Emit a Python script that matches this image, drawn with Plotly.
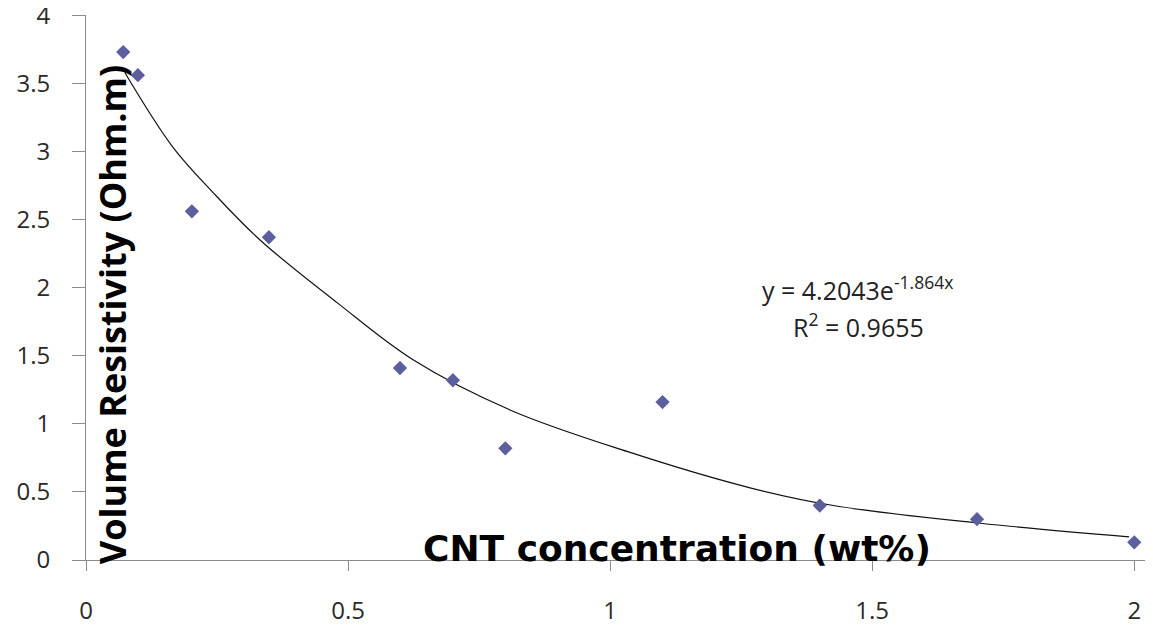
import plotly.graph_objects as go

# measured points
cnt_wt = [0.071, 0.099, 0.202, 0.349, 0.599, 0.70, 0.80, 1.10, 1.40, 1.70, 2.0]
resistivity = [3.73, 3.56, 2.56, 2.37, 1.41, 1.32, 0.82, 1.16, 0.40, 0.30, 0.13]

# exponential trendline as drawn
trend_x = [0.074, 0.166, 0.242, 0.332, 0.479, 0.624, 0.81, 1.038, 1.267, 1.426,
           1.706, 1.99]
trend_y = [3.58, 3.03, 2.70, 2.35, 1.89, 1.47, 1.10, 0.79, 0.53, 0.40,
           0.27, 0.17]

x_ticks = [0, 0.5, 1, 1.5, 2]
y_ticks = [0, 0.5, 1, 1.5, 2, 2.5, 3, 3.5, 4]

fig = go.Figure()
fig.add_trace(go.Scatter(
    x=trend_x, y=trend_y, mode="lines", line_shape="spline",
    line=dict(color="#111111", width=1.2, smoothing=1), hoverinfo="skip",
))
fig.add_trace(go.Scatter(
    x=cnt_wt, y=resistivity, mode="markers",
    marker=dict(symbol="diamond", size=11, color="#5c5e9e"),
))

tick_font = dict(family="Open Sans", size=24, color="#2a2a2a")
fig.update_xaxes(
    range=[0, 2.03], tickvals=x_ticks, ticktext=[str(v) for v in x_ticks],
    showgrid=False, zeroline=False, showline=True, linecolor="#8c8c8c", linewidth=1,
    ticks="outside", ticklen=10, tickcolor="#8c8c8c", tickfont=tick_font,
    ticklabelstandoff=19, automargin=False, ticklabeloverflow="allow",
)
fig.update_yaxes(
    range=[0, 4.002], tickvals=y_ticks, ticktext=[f"{v:g}" for v in y_ticks],
    showgrid=False, zeroline=False, showline=True, linecolor="#8c8c8c", linewidth=1,
    ticks="outside", ticklen=13, tickcolor="#8c8c8c", tickfont=tick_font,
    ticklabelstandoff=17, automargin=False, ticklabeloverflow="allow",
)

fig.add_annotation(
    text="Volume Resistivity (Ohm.m)", textangle=-90, showarrow=False,
    xref="paper", yref="paper", x=0.0244, y=0.451,
    xanchor="center", yanchor="middle",
    font=dict(family="Open Sans", size=36, color="#000000", weight="bold"),
)
fig.add_annotation(
    text="CNT concentration (wt%)", showarrow=False,
    xref="paper", yref="paper", x=0.555, y=0.022,
    xanchor="center", yanchor="middle",
    font=dict(family="DejaVu Sans", size=36, color="#000000", weight="bold"),
)
eq_font = dict(family="Open Sans", size=25, color="#222222")
fig.add_annotation(
    text="y = 4.2043e<sup>-1.864x</sup>", showarrow=False,
    xref="x", yref="y", x=1.471, y=1.995, xanchor="center", yanchor="middle",
    font=eq_font,
)
fig.add_annotation(
    text="R<sup>2</sup> = 0.9655", showarrow=False,
    xref="x", yref="y", x=1.473, y=1.725, xanchor="center", yanchor="middle",
    font=eq_font,
)

# the page puts the plot 8px in from the top-left corner
fig.update_layout(
    width=1145, height=618,
    margin=dict(l=78, r=3, t=7, b=66),
    paper_bgcolor="white", plot_bgcolor="white",
    showlegend=False,
)

fig.write_html("out.html")
